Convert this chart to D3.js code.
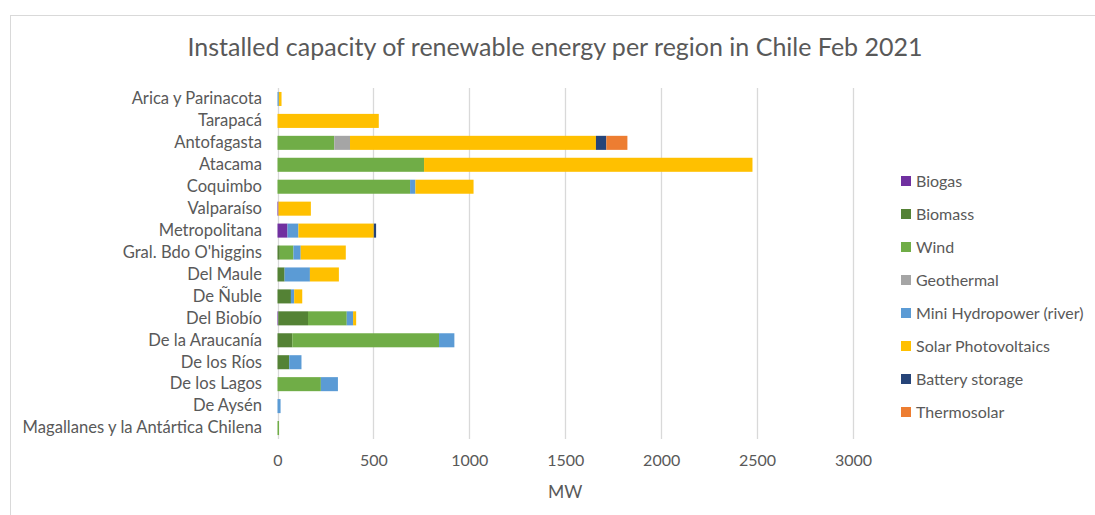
<!DOCTYPE html>
<html>
<head>
<meta charset="utf-8">
<script src="https://cdn.jsdelivr.net/npm/d3@7/dist/d3.min.js"></script>
<style>
  html, body { margin: 0; padding: 0; background: #fff; }
  svg { display: block; }
  text { font-family: Lato, "Open Sans", sans-serif; fill: #595959; }
</style>
</head>
<body>
<svg id="chart" width="1095" height="515"></svg>
<script>
// Regions of Chile, north to south
const regions = [
  "Arica y Parinacota", "Tarapacá", "Antofagasta", "Atacama", "Coquimbo",
  "Valparaíso", "Metropolitana", "Gral. Bdo O'higgins", "Del Maule", "De Ñuble",
  "Del Biobío", "De la Araucanía", "De los Ríos", "De los Lagos", "De Aysén",
  "Magallanes y la Antártica Chilena"
];

// Technologies (stack order, left to right)
const technologies = [
  "Biogas", "Biomass", "Wind", "Geothermal", "Mini Hydropower (river)",
  "Solar Photovoltaics", "Battery storage", "Thermosolar"
];

// Installed capacity in MW per technology, one value per region
const biogas      = [0, 0, 0, 0, 0, 5, 52, 0, 0, 0, 4, 0, 0, 0, 0, 0];
const biomass     = [0, 0, 0, 0, 0, 0, 0, 12, 37, 70, 155, 77, 61, 0, 0, 0];
const wind        = [0, 0, 296, 764, 691, 0, 0, 71, 0, 0, 202, 765, 0, 226, 0, 8];
const geothermal  = [0, 0, 82, 0, 0, 0, 0, 0, 0, 0, 0, 0, 0, 0, 0, 0];
const miniHydro   = [7, 0, 0, 0, 28, 0, 57, 38, 132, 17, 33, 80, 64, 89, 16, 0];
const solarPV     = [14, 528, 1282, 1712, 303, 169, 393, 235, 151, 42, 16, 0, 0, 0, 0, 0];
const battery     = [0, 0, 54, 0, 0, 0, 12, 0, 0, 0, 0, 0, 0, 0, 0, 0];
const thermosolar = [0, 0, 110, 0, 0, 0, 0, 0, 0, 0, 0, 0, 0, 0, 0, 0];

const xTicks = [0, 500, 1000, 1500, 2000, 2500, 3000];

const seriesValues = [biogas, biomass, wind, geothermal, miniHydro, solarPV, battery, thermosolar];
const colors = ["#7030A0", "#548235", "#70AD47", "#A5A5A5", "#5B9BD5", "#FFC000", "#264478", "#ED7D31"];

// Rows for d3.stack
const rows = regions.map((r, i) => {
  const row = { region: r };
  technologies.forEach((t, k) => { row[t] = seriesValues[k][i]; });
  return row;
});

const svg = d3.select("#chart");

// Chart frame
svg.append("rect")
  .attr("x", 10.5).attr("y", 15.5)
  .attr("width", 1100).attr("height", 520)
  .attr("fill", "none").attr("stroke", "#d9d9d9").attr("stroke-width", 1);

const plot = { left: 277.5, right: 853, top: 88, bottom: 439 };

const x = d3.scaleLinear().domain([0, 3000]).range([plot.left, plot.right]);
const y = d3.scaleBand().domain(regions).range([plot.top, plot.bottom]).paddingInner(0.36).paddingOuter(0.18);

// Vertical gridlines
svg.append("g")
  .selectAll("line")
  .data(xTicks)
  .join("line")
  .attr("x1", d => Math.round(x(d)) + 0.5)
  .attr("x2", d => Math.round(x(d)) + 0.5)
  .attr("y1", plot.top)
  .attr("y2", plot.bottom)
  .attr("stroke", "#d9d9d9")
  .attr("stroke-width", 1.3);

// Stacked bars
const stacked = d3.stack().keys(technologies)(rows);
svg.append("g")
  .selectAll("g")
  .data(stacked)
  .join("g")
  .attr("fill", (d, i) => colors[i])
  .selectAll("rect")
  .data(d => d)
  .join("rect")
  .attr("x", d => x(d[0]))
  .attr("width", d => Math.max(0, x(d[1]) - x(d[0])))
  .attr("y", d => y(d.data.region))
  .attr("height", y.bandwidth());

// Category axis (labels only)
const yAxis = d3.axisLeft(y).tickSize(0).tickPadding(0);
const yg = svg.append("g").attr("transform", `translate(262,0)`).call(yAxis);
yg.select(".domain").remove();
yg.selectAll("text")
  .style("font-size", "16.6px")
  .attr("fill", "#595959");

// Value axis (labels only)
const xAxis = d3.axisBottom(x).tickValues(xTicks).tickFormat(d3.format("d")).tickSize(0).tickPadding(0);
const xg = svg.append("g").attr("transform", `translate(0,455)`).call(xAxis);
xg.select(".domain").remove();
xg.selectAll("text")
  .style("font-size", "16px")
  .attr("fill", "#595959");

// Axis title
svg.append("text")
  .attr("x", x(1500)).attr("y", 498)
  .attr("text-anchor", "middle")
  .style("font-size", "17.5px")
  .text("MW");

// Chart title
svg.append("text")
  .attr("x", 555).attr("y", 56)
  .attr("text-anchor", "middle")
  .style("font-size", "25px")
  .text("Installed capacity of renewable energy per region in Chile Feb 2021");

// Legend
const legend = svg.append("g").attr("transform", "translate(901,181)")
  .selectAll("g")
  .data(technologies)
  .join("g")
  .attr("transform", (d, i) => `translate(0,${i * 33})`);
legend.append("rect")
  .attr("x", 0).attr("y", -5)
  .attr("width", 10).attr("height", 10)
  .attr("fill", (d, i) => colors[i]);
legend.append("text")
  .attr("x", 15).attr("y", 0)
  .attr("dy", "0.35em")
  .style("font-size", "16px")
  .text(d => d);
</script>
</body>
</html>
